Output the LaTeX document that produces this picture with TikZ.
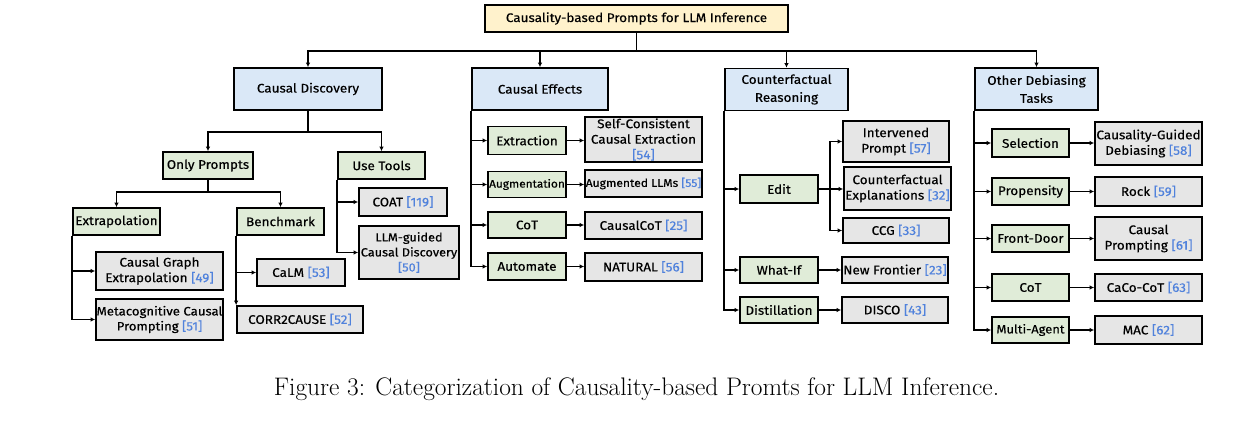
\documentclass[tikz,border=0pt]{standalone}
\usepackage{fontspec}
\newfontfamily\boxfont{Fira Sans}[FakeBold=0.4,FakeStretch=1.08]
\usetikzlibrary{arrows.meta}
\definecolor{cyel}{RGB}{255,242,204}
\definecolor{cblue}{RGB}{218,232,247}
\definecolor{cgreen}{RGB}{224,236,216}
\definecolor{cgray}{RGB}{230,230,230}
\definecolor{citeblue}{RGB}{80,130,220}
\newcommand{\rf}[1]{\textcolor{citeblue}{[#1]}}
\newcommand{\bx}[7]{\node[#1, minimum width=#5pt, minimum height=#6pt] (#2) at (#3,#4) {#7};}
\tikzset{
  base/.style={draw=black, line width=1.7pt, inner sep=0.5pt, align=center, text=black,
    font=\boxfont\fontsize{12.5}{15.5}\selectfont},
  fs/.style={font=\boxfont\fontsize{#1}{15}\selectfont},
  rootb/.style={base, fill=cyel},
  catb/.style={base, fill=cblue, font=\boxfont\fontsize{12.5}{18}\selectfont},
  subb/.style={base, fill=cgreen},
  leafb/.style={base, fill=cgray},
  conn/.style={line width=1.7pt},
  arr/.style={line width=1.7pt, -{Latex[length=4.5pt,width=4.5pt]}}
}
\begin{document}
\begin{tikzpicture}[x=1pt,y=-1pt]
\useasboundingbox[fill=white] (0,0) rectangle (1256,422);
% root and categories
\bx{rootb}{root}{636.5}{18.5}{303}{27}{Causality-based Prompts for LLM Inference}
\bx{catb}{cd}{308}{89}{148}{42}{Causal Discovery}
\bx{catb}{ce}{540}{89}{136}{42}{Causal Effects}
\bx{catb}{cr}{786.5}{89.5}{123}{42}{Counterfactual\\Reasoning}
\bx{catb}{od}{1036.5}{89}{123}{42}{Other Debiasing\\Tasks}
\coordinate (b0) at (636.5,51);
\draw[conn] (root.south) -- (b0);
\draw[arr] (b0) -| (cd.north);
\draw[arr] (b0) -| (ce.north);
\draw[arr] (b0) -| (cr.north);
\draw[arr] (b0) -| (od.north);
% causal discovery
\bx{subb}{op}{208}{165.5}{90}{27}{Only Prompts}
\bx{subb}{ut}{381.5}{165.5}{87}{27}{Use Tools}
\coordinate (b1) at (308,132);
\draw[conn] (cd.south) -- (b1);
\draw[arr] (b1) -| (op.north);
\draw[arr] (b1) -| (ut.north);
\bx{subb}{ex}{116.5}{221.5}{87}{27}{Extrapolation}
\bx{subb}{bm}{280.5}{221.5}{87}{27}{Benchmark}
\coordinate (b2) at (208,192);
\draw[conn] (op.south) -- (b2);
\draw[arr] (b2) -| (ex.north);
\draw[arr] (b2) -| (bm.north);
\bx{leafb}{cg}{159.5}{271}{127}{38}{Causal Graph\\Extrapolation \rf{49}}
\bx{leafb,fs=12.2}{mc}{159.5}{319.5}{127}{41}{Metacognitive Causal\\Prompting \rf{51}}
\draw[arr] (ex.south west) |- (cg.west);
\draw[arr] (ex.south west) |- (mc.west);
\bx{leafb}{calm}{301}{272.5}{88}{27}{CaLM \rf{53}}
\bx{leafb}{cc}{300}{319.5}{126}{27}{CORR2CAUSE \rf{52}}
\draw[arr] (bm.south west) |- (calm.west);
\draw[arr] (bm.south west) -- (cc.north west);
\bx{leafb}{coat}{403}{202}{88}{28}{COAT \rf{119}}
\bx{leafb,fs=11.8}{llm}{409}{252.5}{100}{53}{LLM-guided\\Causal Discovery\\\rf{50}}
\draw[arr] (ut.south west) |- (coat.west);
\draw[arr] (ut.south west) |- (llm.west);
% causal effects
\bx{subb}{ext}{527}{140.5}{78}{28}{Extraction}
\bx{subb,fs=11}{aug}{527}{184.5}{78}{26}{Augmentation}
\bx{subb}{cot1}{527}{225}{78}{26}{CoT}
\bx{subb}{aut}{527}{266.5}{78}{27}{Automate}
\bx{leafb}{sce}{643.5}{139.5}{117}{45}{Self-Consistent\\Causal Extraction\\\rf{54}}
\bx{leafb,fs=11.2}{augl}{643.5}{183.5}{117}{27}{Augmented LLMs \rf{55}}
\bx{leafb}{ccot}{643.5}{225.5}{117}{27}{CausalCoT \rf{25}}
\bx{leafb}{nat}{643.5}{267}{117}{28}{NATURAL \rf{56}}
\foreach \g in {ext,aug,cot1,aut}{\draw[arr] (ce.south west) |- (\g.west);}
\draw[arr] (ext.east) -- (ext.east -| sce.west);
\draw[arr] (aug.east) -- (aug.east -| augl.west);
\draw[arr] (cot1.east) -- (cot1.east -| ccot.west);
\draw[arr] (aut.east) -- (aut.east -| nat.west);
% counterfactual reasoning
\bx{subb}{ed}{779}{189}{78}{28}{Edit}
\bx{subb}{wi}{779}{270}{78}{26}{What-If}
\bx{subb}{dis}{779}{310}{78}{26}{Distillation}
\foreach \g in {ed,wi,dis}{\draw[arr] (cr.south west) |- (\g.west);}
\bx{leafb}{ivp}{896}{141.5}{106}{41}{Intervened\\Prompt \rf{57}}
\bx{leafb}{cfe}{897.5}{188.5}{107}{43}{Counterfactual\\Explanations \rf{32}}
\bx{leafb}{ccg}{896}{230.5}{106}{25}{CCG \rf{33}}
\bx{leafb}{nf}{895}{270}{106}{26}{New Frontier \rf{23}}
\bx{leafb}{disco}{895}{310}{106}{26}{DISCO \rf{43}}
\coordinate (ej) at (830,189);
\draw[conn] (ed.east) -- (ej);
\draw[arr] (ej) |- (ivp.west);
\draw[arr] (ej) -- (ej -| cfe.west);
\draw[arr] (ej) |- (ccg.west);
\draw[arr] (wi.east) -- (wi.east -| nf.west);
\draw[arr] (dis.east) -- (dis.east -| disco.west);
% other debiasing tasks
\bx{subb}{sel}{1030.5}{143}{77}{28}{Selection}
\bx{subb}{pro}{1030.5}{191.5}{77}{27}{Propensity}
\bx{subb}{fd}{1030.5}{238.5}{77}{27}{Front-Door}
\bx{subb}{cot2}{1030.5}{287.5}{77}{27}{CoT}
\bx{subb,fs=12}{ma}{1030.5}{330}{77}{26}{Multi-Agent}
\foreach \g in {sel,pro,fd,cot2,ma}{\draw[arr] (od.south west) |- (\g.west);}
\bx{leafb}{cgd}{1148.5}{143.5}{107}{43}{Causality-Guided\\Debiasing \rf{58}}
\bx{leafb}{rock}{1148.5}{191.5}{107}{29}{Rock \rf{59}}
\bx{leafb}{cp}{1148.5}{238.5}{107}{43}{Causal\\Prompting \rf{61}}
\bx{leafb}{caco}{1148.5}{287.5}{107}{27}{CaCo-CoT \rf{63}}
\bx{leafb}{mac}{1148.5}{330}{107}{28}{MAC \rf{62}}
\draw[arr] (sel.east) -- (sel.east -| cgd.west);
\draw[arr] (pro.east) -- (pro.east -| rock.west);
\draw[arr] (fd.east) -- (fd.east -| cp.west);
\draw[arr] (cot2.east) -- (cot2.east -| caco.west);
\draw[arr] (ma.east) -- (ma.east -| mac.west);
% caption
\node[font=\fontsize{25.4}{30}\selectfont, inner sep=0pt] (cap) at (636.5,389) {Figure 3: Categorization of Causality-based Promts for LLM Inference.};
\end{tikzpicture}
\end{document}
